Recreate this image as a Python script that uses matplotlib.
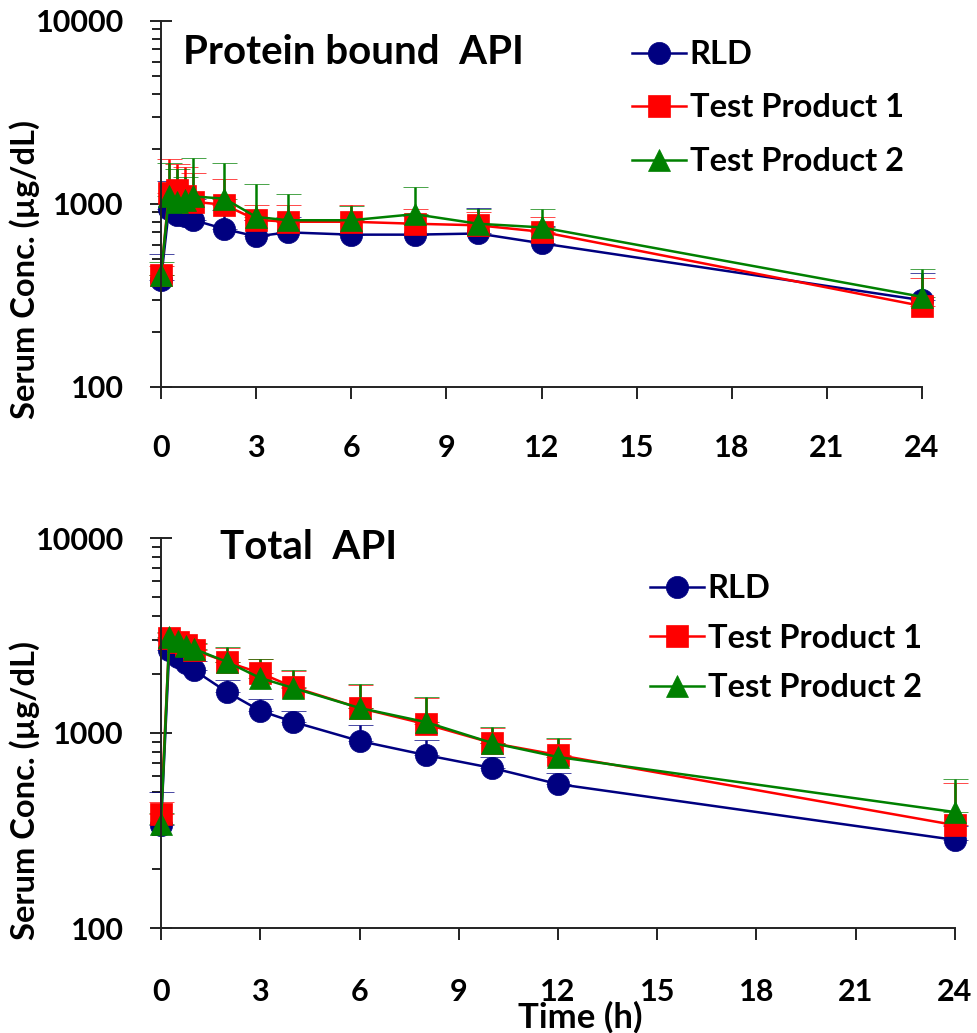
import matplotlib
matplotlib.use("Agg")
import matplotlib.pyplot as plt
from matplotlib.font_manager import FontProperties
from matplotlib.ticker import LogLocator, NullFormatter, FixedLocator, FixedFormatter
import numpy as np

# sampling times (h)
time_h = [0, 0.25, 0.5, 0.75, 1, 2, 3, 4, 6, 8, 10, 12, 24]

# protein bound API (ug/dL), mean and upper SD
bound_rld = [385, 940, 870, 860, 820, 730, 665, 700, 680, 680, 690, 610, 298]
bound_rld_sd = [148, 400, 300, 250, 250, 200, 150, 150, 150, 180, 266, 150, 122]
bound_tp1 = [410, 1150, 1200, 1100, 1030, 990, 820, 800, 800, 780, 765, 705, 277]
bound_tp1_sd = [50, 610, 450, 485, 450, 380, 170, 190, 190, 160, 140, 145, 117]
bound_tp2 = [410, 1100, 1020, 1050, 1100, 1070, 850, 815, 815, 880, 780, 745, 311]
bound_tp2_sd = [72, 575, 530, 356, 683, 605, 435, 320, 160, 360, 160, 195, 131]

# total API (ug/dL), mean and upper SD
total_rld = [337, 2650, 2450, 2290, 2100, 1620, 1300, 1140, 910, 771, 662, 547, 283]
total_rld_sd = [161, 300, 250, 250, 250, 250, 200, 150, 190, 150, 90, 80, 50]
total_tp1 = [384, 3070, 2930, 2830, 2670, 2310, 2030, 1720, 1344, 1111, 889, 771, 337]
total_tp1_sd = [60, 200, 200, 200, 200, 420, 365, 370, 420, 400, 170, 160, 220]
total_tp2 = [341, 3100, 2980, 2800, 2700, 2313, 1915, 1700, 1344, 1138, 890, 753, 393]
total_tp2_sd = [50, 200, 200, 200, 200, 450, 480, 404, 440, 392, 183, 189, 188]

series_names = ["RLD", "Test Product 1", "Test Product 2"]
colors = ["#000080", "#FF0000", "#008000"]
markers = ["o", "s", "^"]

x_ticks = [0, 3, 6, 9, 12, 15, 18, 21, 24]
y_ticks = [100, 1000, 10000]
y_tick_labels = ["100", "1000", "10000"]

FONT = "Lato"
tick_fp = FontProperties(family=FONT, weight="bold", size=22)
leg_fp = FontProperties(family=FONT, weight="bold", size=23.5)

W, H = 978, 1033
fig = plt.figure(figsize=(W / 100, H / 100), dpi=100)


def px_box(x0, y0, x1, y1):
    return [x0 / W, 1 - y1 / H, (x1 - x0) / W, (y1 - y0) / H]


def draw_panel(ax, means, sds, xpad, leg_anchor, leg_spacing):
    handles = []
    for vals, sd, c, m, name in zip(means, sds, colors, markers, series_names):
        cont = ax.errorbar(time_h, vals, yerr=[np.zeros(len(sd)), sd], fmt="-" + m,
                           color=c, ms=16, mew=0.5, lw=1.8, elinewidth=1.8,
                           capsize=9, capthick=1.8, label=name)
        cont.lines[0].set_clip_on(False)
        for cl in cont.lines[1]:
            cl.set_clip_on(False)
        for bl in cont.lines[2]:
            bl.set_clip_on(False)
        handles.append(cont.lines[0])

    ax.set_yscale("log")
    ax.set_ylim(100, 10000)
    ax.set_xlim(0, 24)
    ax.yaxis.set_major_locator(FixedLocator(y_ticks))
    ax.yaxis.set_major_formatter(FixedFormatter(y_tick_labels))
    ax.yaxis.set_minor_locator(LogLocator(base=10, subs=np.arange(2, 10)))
    ax.yaxis.set_minor_formatter(NullFormatter())
    ax.set_xticks(x_ticks)
    ax.set_xticklabels([str(t) for t in x_ticks])

    for s in ["top", "right"]:
        ax.spines[s].set_visible(False)
    for s in ["left", "bottom"]:
        ax.spines[s].set_linewidth(1.4)
        ax.spines[s].set_color("#222222")

    ax.tick_params(axis="y", which="major", direction="inout", length=15.8, width=1.4,
                   pad=18.7, color="#222222")
    ax.tick_params(axis="y", which="minor", direction="out", length=6.5, width=1.4,
                   color="#222222")
    ax.tick_params(axis="x", which="major", direction="out", length=8.6, width=1.4,
                   pad=xpad, color="#222222")
    for lab in ax.get_xticklabels() + ax.get_yticklabels():
        lab.set_fontproperties(tick_fp)

    ax.legend(handles, series_names, loc="upper left", bbox_to_anchor=leg_anchor,
              bbox_transform=fig.transFigure, frameon=False, borderpad=0,
              borderaxespad=0, handlelength=1.65, handletextpad=0.12,
              labelspacing=leg_spacing, numpoints=1, prop=leg_fp)


ax1 = fig.add_axes(px_box(161, 21, 922, 387))
draw_panel(ax1, [bound_rld, bound_tp1, bound_tp2],
           [bound_rld_sd, bound_tp1_sd, bound_tp2_sd],
           25, (632 / W, 1 - 40 / H), 0.75)

ax2 = fig.add_axes(px_box(161, 538, 955, 928))
draw_panel(ax2, [total_rld, total_tp1, total_tp2],
           [total_rld_sd, total_tp1_sd, total_tp2_sd],
           27.5, (650 / W, 1 - 574 / H), 0.63)

title_fp = FontProperties(family=FONT, weight="bold", size=29)
fig.text(183 / W, 1 - 64 / H, "Protein bound  API", fontproperties=title_fp,
         ha="left", va="baseline")
fig.text(220 / W, 1 - 559 / H, "Total  API", fontproperties=title_fp,
         ha="left", va="baseline")

lab_fp = FontProperties(family=FONT, weight="bold", size=23.5)
fig.text(25 / W, 1 - 270 / H, "Serum Conc. (\u00b5g/dL)", fontproperties=lab_fp,
         rotation=90, ha="center", va="center")
fig.text(25 / W, 1 - 790 / H, "Serum Conc. (\u00b5g/dL)", fontproperties=lab_fp,
         rotation=90, ha="center", va="center")
fig.text(580 / W, 1 - 1028 / H, "Time (h)",
         fontproperties=FontProperties(family=FONT, weight="bold", size=25),
         ha="center", va="baseline")

fig.savefig("out.png", dpi=100)
